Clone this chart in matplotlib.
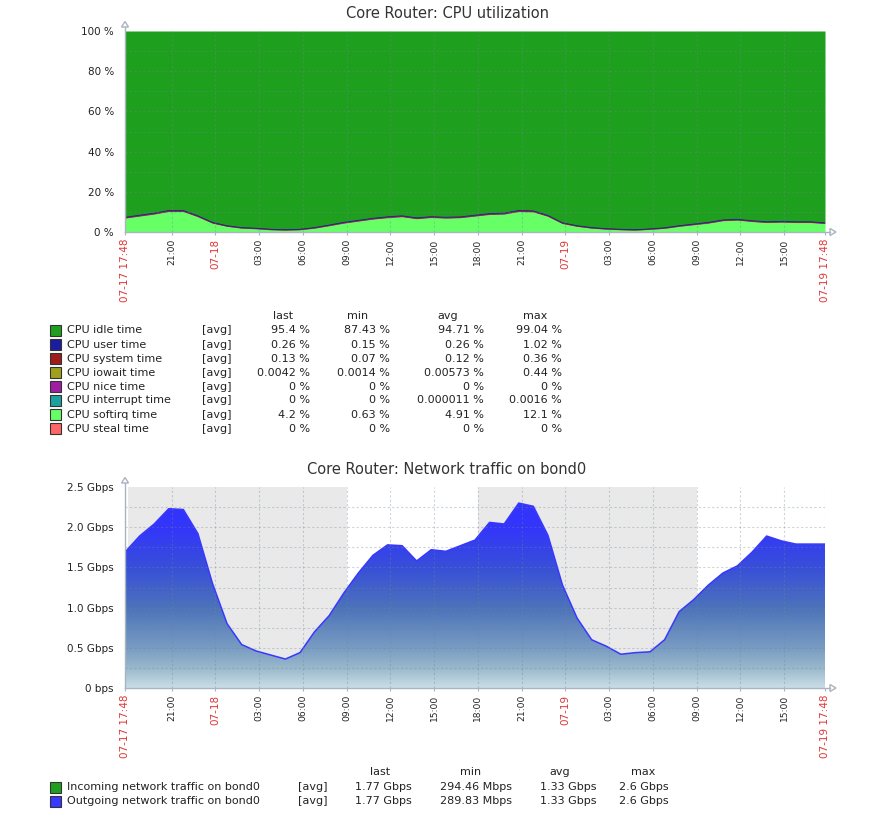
import datetime as dt
import numpy as np
import matplotlib
matplotlib.use("Agg")
import matplotlib.pyplot as plt
from matplotlib.patches import Rectangle, Polygon
from matplotlib.lines import Line2D
from matplotlib.colors import LinearSegmentedColormap

# ---------------- data ----------------
start_time = dt.datetime(2019, 7, 17, 17, 48)
period_hours = 48
hours = list(range(49))  # hourly samples from 07-17 17:48

cpu_softirq = [6.9, 7.9, 8.9, 10.2, 10.2, 7.6, 4.4, 2.8, 1.9, 1.6, 1.1, 0.9, 1.1,
               1.9, 3.1, 4.4, 5.4, 6.4, 7.1, 7.6, 6.6, 7.2, 6.9, 7.1, 7.9, 8.7,
               8.9, 10.2, 10.0, 7.8, 4.2, 2.8, 1.9, 1.4, 1.1, 0.9, 1.3, 1.8, 2.8,
               3.6, 4.4, 5.6, 5.9, 5.2, 4.7, 4.9, 4.7, 4.7, 4.2]
cpu_system = [0.13, 0.14, 0.15, 0.16, 0.16, 0.14, 0.12, 0.10, 0.09, 0.08, 0.08, 0.07,
              0.08, 0.09, 0.11, 0.12, 0.13, 0.13, 0.14, 0.14, 0.13, 0.13, 0.13, 0.13,
              0.14, 0.15, 0.15, 0.16, 0.16, 0.14, 0.12, 0.10, 0.09, 0.08, 0.08, 0.07,
              0.08, 0.09, 0.10, 0.11, 0.12, 0.13, 0.13, 0.13, 0.12, 0.12, 0.13, 0.13, 0.13]
cpu_user = [0.28, 0.30, 0.32, 0.35, 0.34, 0.30, 0.26, 0.22, 0.20, 0.18, 0.17, 0.16,
            0.17, 0.20, 0.24, 0.27, 0.29, 0.30, 0.31, 0.31, 0.30, 0.30, 0.30, 0.30,
            0.31, 0.33, 0.33, 0.36, 0.35, 0.31, 0.26, 0.22, 0.20, 0.18, 0.17, 0.16,
            0.17, 0.19, 0.22, 0.24, 0.26, 0.28, 0.29, 0.28, 0.27, 0.27, 0.26, 0.26, 0.26]

traffic_gbps = [1.69, 1.89, 2.04, 2.23, 2.22, 1.92, 1.30, 0.80, 0.54, 0.46, 0.41,
                0.36, 0.44, 0.70, 0.90, 1.18, 1.43, 1.65, 1.78, 1.77, 1.58, 1.72,
                1.70, 1.77, 1.84, 2.06, 2.04, 2.30, 2.26, 1.90, 1.28, 0.87, 0.60,
                0.52, 0.42, 0.44, 0.45, 0.60, 0.95, 1.10, 1.28, 1.43, 1.52, 1.69,
                1.89, 1.83, 1.79, 1.79, 1.79]

cpu_names = ["CPU idle time", "CPU user time", "CPU system time", "CPU iowait time",
             "CPU nice time", "CPU interrupt time", "CPU softirq time", "CPU steal time"]
cpu_last = ["95.4 %", "0.26 %", "0.13 %", "0.0042 %", "0 %", "0 %", "4.2 %", "0 %"]
cpu_min = ["87.43 %", "0.15 %", "0.07 %", "0.0014 %", "0 %", "0 %", "0.63 %", "0 %"]
cpu_avg = ["94.71 %", "0.26 %", "0.12 %", "0.00573 %", "0 %", "0.000011 %", "4.91 %", "0 %"]
cpu_max = ["99.04 %", "1.02 %", "0.36 %", "0.44 %", "0 %", "0.0016 %", "12.1 %", "0 %"]

net_names = ["Incoming network traffic on bond0", "Outgoing network traffic on bond0"]
net_last = ["1.77 Gbps", "1.77 Gbps"]
net_min = ["294.46 Mbps", "289.83 Mbps"]
net_avg = ["1.33 Gbps", "1.33 Gbps"]
net_max = ["2.6 Gbps", "2.6 Gbps"]

cpu_yticks = [0, 20, 40, 60, 80, 100]
net_yticks = [0, 0.5, 1.0, 1.5, 2.0, 2.5]
net_ytick_labels = ["0 bps", "0.5 Gbps", "1.0 Gbps", "1.5 Gbps", "2.0 Gbps", "2.5 Gbps"]

# ---------------- styles ----------------
W, H = 875, 817
cpu_colors = ["#1EA01E", "#1C1C9E", "#A01C1C", "#A0A01C", "#A01CA0", "#1CA0A0",
              "#66FF66", "#FF6666"]
net_colors = ["#1EA01E", "#3838FF"]
AXC = "#aab4c0"
GRIDC = (0.45, 0.52, 0.6, 0.35)
TXT = "#222222"
RED = "#e03535"

fig = plt.figure(figsize=(W / 100, H / 100), dpi=100)


def fx(x):
    return x / W


def fy(y):
    return 1 - y / H


def make_axes(top, bottom):
    ax = fig.add_axes([fx(125), fy(bottom), 700 / W, (bottom - top) / H])
    for s in ax.spines.values():
        s.set_visible(False)
    ax.set_xlim(0, period_hours)
    return ax


def time_ticks(ax):
    ticks, labels = [0], [start_time]
    t = start_time.replace(minute=0, second=0)
    while t.hour % 3 != 0 or t <= start_time:
        t += dt.timedelta(hours=1)
    end_time = start_time + dt.timedelta(hours=period_hours)
    while t < end_time:
        h = (t - start_time).total_seconds() / 3600
        if h >= 1.5 and period_hours - h >= 1.5:
            ticks.append(h)
            labels.append(t)
        t += dt.timedelta(hours=3)
    ticks.append(period_hours)
    labels.append(end_time)
    ax.set_xticks(ticks)
    txt = []
    for i, t in enumerate(labels):
        if i == 0 or i == len(labels) - 1:
            txt.append(t.strftime("%m-%d %H:%M"))
        elif t.hour == 0:
            txt.append(t.strftime("%m-%d"))
        else:
            txt.append(t.strftime("%H:%M"))
    ax.set_xticklabels(txt, rotation=90, va="top", ha="center")
    for i, (lab, t) in enumerate(zip(ax.get_xticklabels(), labels)):
        if i == 0 or i == len(labels) - 1 or t.hour == 0:
            lab.set_color(RED)
            lab.set_fontsize(7.5)
        else:
            lab.set_color(TXT)
            lab.set_fontsize(6.6)
    ax.tick_params(axis="x", length=2.2, width=0.8, color=AXC, pad=2.5)
    ax.tick_params(axis="y", length=0, pad=8, labelsize=7.5, labelcolor=TXT)
    for x in ticks[1:]:
        ax.axvline(x, color=GRIDC, lw=0.8, ls=(0, (2, 2)), zorder=5)


def axis_decor(top, bottom):
    fig.add_artist(Line2D([fx(125), fx(125)], [fy(bottom), fy(top - 4)], color=AXC, lw=1))
    fig.add_artist(Line2D([fx(125), fx(830)], [fy(bottom), fy(bottom)], color=AXC, lw=1))
    fig.add_artist(Polygon([[fx(121.5), fy(top - 4)], [fx(128.5), fy(top - 4)],
                            [fx(125), fy(top - 9.5)]], closed=True, fc="white",
                           ec=AXC, lw=1))
    fig.add_artist(Polygon([[fx(830), fy(bottom - 3.5)], [fx(830), fy(bottom + 3.5)],
                            [fx(836), fy(bottom)]], closed=True, fc="white",
                           ec=AXC, lw=1))


# ---------------- CPU chart ----------------
ax1 = make_axes(31, 232)
x = np.array(hours, dtype=float)
s1 = np.array(cpu_softirq)
s2 = s1 + np.array(cpu_system)
s3 = s2 + np.array(cpu_user)
ax1.fill_between(x, 0, s1, color=cpu_colors[6], lw=0, zorder=1)
ax1.fill_between(x, s1, s2, color=cpu_colors[2], lw=0, zorder=1)
ax1.fill_between(x, s2, s3, color=cpu_colors[1], lw=0, zorder=1)
ax1.fill_between(x, s3, 100, color=cpu_colors[0], lw=0, zorder=1)
ax1.plot(x, s2, color=cpu_colors[2], lw=0.7, zorder=2)
ax1.plot(x, s3, color=cpu_colors[1], lw=0.6, zorder=2)
ax1.set_ylim(0, 100)
ax1.set_yticks(cpu_yticks)
ax1.set_yticklabels([f"{v} %" for v in cpu_yticks])
for v in range(10, 100, 10):
    ax1.axhline(v, color=GRIDC, lw=0.8, ls=(0, (2, 2)), zorder=5)
time_ticks(ax1)
axis_decor(31, 232)
fig.text(fx(447), fy(14), "Core Router: CPU utilization", ha="center", va="center",
         fontsize=10.5, color="#333333")

# ---------------- Network chart ----------------
ax2 = make_axes(487, 688)
ax2.set_ylim(0, 2.5)
# non-working time shading (outside Mon-Fri 09:00-18:00)
t = start_time
in_band = None
step = dt.timedelta(minutes=6)
while t <= start_time + dt.timedelta(hours=period_hours):
    working = t.weekday() < 5 and 9 <= t.hour < 18
    h = (t - start_time).total_seconds() / 3600
    if not working and in_band is None:
        in_band = h
    if working and in_band is not None:
        ax2.axvspan(in_band, h, color="#e9e9e9", lw=0, zorder=0)
        in_band = None
    t += step
if in_band is not None:
    ax2.axvspan(in_band, period_hours, color="#e9e9e9", lw=0, zorder=0)

y = np.array(traffic_gbps)
poly = ax2.fill_between(x, 0, y, facecolor="none", lw=0, zorder=1)
cmap = LinearSegmentedColormap.from_list(
    "traffic",
    [(0.0, (0.79, 0.87, 0.90)), (0.1, (0.60, 0.72, 0.80)), (0.2, (0.47, 0.61, 0.76)),
     (0.4, (0.30, 0.45, 0.73)), (0.6, (0.22, 0.31, 0.85)), (0.8, (0.20, 0.21, 0.98)),
     (1.0, (0.20, 0.20, 1.0))])
grad = np.linspace(0, 1, 256).reshape(-1, 1)
im = ax2.imshow(grad, extent=[0, period_hours, 0, 2.5], origin="lower", aspect="auto",
                cmap=cmap, zorder=1, interpolation="bilinear")
im.set_clip_path(poly.get_paths()[0], transform=ax2.transData)
ax2.plot(x, y, color=net_colors[1], lw=1.1, zorder=2)
ax2.set_yticks(net_yticks)
ax2.set_yticklabels(net_ytick_labels)
for v in np.arange(0.25, 2.5, 0.25):
    ax2.axhline(v, color=GRIDC, lw=0.8, ls=(0, (2, 2)), zorder=5)
time_ticks(ax2)
ax2.set_xlim(0, period_hours)
ax2.set_ylim(0, 2.5)
axis_decor(487, 688)
fig.text(fx(447), fy(469), "Core Router: Network traffic on bond0", ha="center",
         va="center", fontsize=10.5, color="#333333")


# ---------------- legends ----------------
def legend(names, colors, cols, head_y, row0, label_x, avg_x, head_x, val_x):
    for hx, h in zip(head_x, ["last", "min", "avg", "max"]):
        fig.text(fx(hx), fy(head_y), h, ha="center", va="center", fontsize=8, color=TXT)
    for i, (n, c) in enumerate(zip(names, colors)):
        yy = row0 + 14 * i
        fig.add_artist(Rectangle((fx(50), fy(yy + 5.5)), 11 / W, 11 / H, fc=c,
                                 ec="#333333", lw=0.8))
        fig.text(fx(label_x), fy(yy), n, ha="left", va="center", fontsize=8, color=TXT)
        fig.text(fx(avg_x), fy(yy), "[avg]", ha="left", va="center", fontsize=8, color=TXT)
        for vx, col in zip(val_x, cols):
            fig.text(fx(vx), fy(yy), col[i], ha="right", va="center", fontsize=8,
                     color=TXT)


legend(cpu_names, cpu_colors, [cpu_last, cpu_min, cpu_avg, cpu_max], 316, 330.5, 67,
       202, [283, 358, 448, 535], [310, 390, 484, 562])
legend(net_names, net_colors, [net_last, net_min, net_avg, net_max], 772, 787, 67,
       298, [380, 471, 560, 643], [412, 512, 597, 669])

fig.savefig("out.png", dpi=100, facecolor="white")
